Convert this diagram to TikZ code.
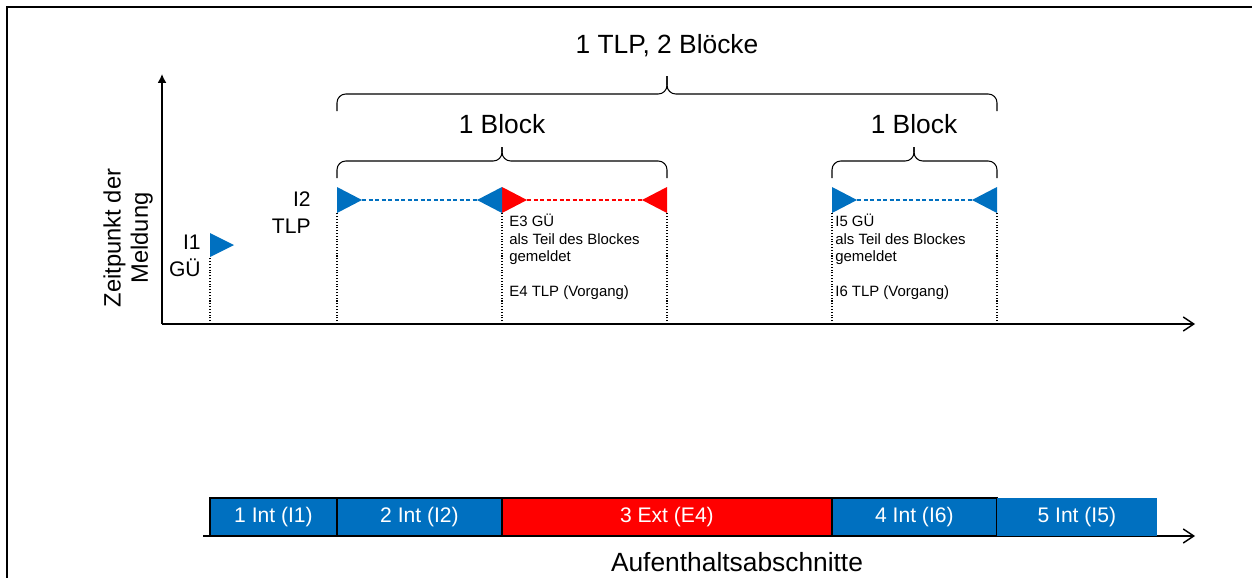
\documentclass[tikz,border=0pt]{standalone}
\usepackage{fontspec}
\setmainfont{Liberation Sans}
\usepackage{tikz}
\usetikzlibrary{positioning,arrows.meta}
\definecolor{int-blue}{HTML}{0070C0}
\definecolor{ext-red}{HTML}{FF0000}

\begin{document}
\begin{tikzpicture}[
  x=0.02cm, y=-0.02cm,
  every node/.style={align=center},
  frame/.style={line width=1.1pt},
  axis/.style={line width=0.8pt, -{Straight Barb[length=6pt,width=8pt]}},
  yaxis/.style={line width=0.8pt, -{Latex[length=5pt,width=5pt]}},
  curly/.style={rounded corners=5pt, line width=0.6pt},
  heading/.style={font=\fontsize{15}{17}\selectfont},
  tag/.style={align=right, inner sep=0pt, font=\fontsize{12}{15.5}\selectfont},
  note/.style={align=left, inner sep=0pt, font=\fontsize{8.5}{9.9}\selectfont},
  marker/.style={densely dotted, line width=0.6pt},
  span/.style={dash pattern=on 2.5pt off 1.2pt, line width=0.6pt},
  seg/.style={rectangle, draw=black, line width=0.8pt, minimum height=0.76cm, inner sep=0pt, outer sep=0pt, text=white, font=\fontsize{12}{14}\selectfont}
]
  \useasboundingbox (0,0) rectangle (1252,578);
  \draw[frame] (7,578) -- (7,7) -- (1252,7);

  % axes
  \coordinate (o) at (162,324);
  \coordinate (ytip) at (162,74);
  \coordinate (xtip) at (1195,324);
  \draw[yaxis] (o) -- (ytip);
  \draw[axis] (o) -- (xtip);
  \node[rotate=90, font=\fontsize{13.5}{15.5}\selectfont] (ylab) at (128,238) {Zeitpunkt der\\Meldung};

  \foreach \n/\x in {1/210, 2/337, 3/502, 4/667, 5/832, 6/997}
    \coordinate (p\n) at (\x,324);

  % flags
  \fill[int-blue] (210,233) -- (234,245) -- (210,257) -- cycle;
  \foreach \x/\c in {337/int-blue, 502/ext-red, 832/int-blue} {
    \fill[\c] (\x,187) -- (\x+25,200) -- (\x,213) -- cycle;
    \coordinate (r\x) at (\x+25,200);
  }
  \foreach \x/\c in {502/int-blue, 667/ext-red, 997/int-blue} {
    \fill[\c] (\x,187) -- (\x-25,200) -- (\x,213) -- cycle;
    \coordinate (l\x) at (\x-25,200);
  }
  \draw[span, int-blue] (r337) -- (l502);
  \draw[span, ext-red] (r502) -- (l667);
  \draw[span, int-blue] (r832) -- (l997);

  \draw[marker] (p1) -- ++(0,-67);
  \foreach \n in {2,...,6}
    \draw[marker] (p\n) -- ++(0,-111);

  % braces: left end / right end / tip x / foot y / bar y / tip y
  \foreach \a/\b/\m/\f/\h/\t in {337/997/667/111/94/76, 337/667/502/178/161/147, 832/997/914/178/161/147} {
    \draw[curly] (\a,\f) |- (\m,\h) -- (\m,\t);
    \draw[curly] (\b,\f) |- (\m,\h) -- (\m,\t);
  }
  \node[heading] (tlp) at (667,46) {1 TLP, 2 Blöcke};
  \node[heading] (blkA) at (502,124) {1 Block};
  \node[heading] (blkB) at (914,124) {1 Block};

  \node[tag, anchor=east] (i1) at (201,256) {I1\\GÜ};
  \node[tag, anchor=east] (i2) at (311,213) {I2\\TLP};
  \node[note, anchor=north west] (e3) at (509,214) {E3 GÜ\\als Teil des Blockes\\gemeldet\\[9.9pt]E4 TLP (Vorgang)};
  \node[note, anchor=north west] (i5) at (835,214) {I5 GÜ\\als Teil des Blockes\\gemeldet\\[9.9pt]I6 TLP (Vorgang)};

  % stays
  \coordinate (lo) at (203,536);
  \coordinate (lotip) at (1195,536);
  \draw[axis] (lo) -- (lotip);
  \node[seg, fill=int-blue, minimum width=2.54cm, anchor=south west] (s1) at (210,536) {1 Int (I1)};
  \node[seg, fill=int-blue, minimum width=3.3cm, right=0pt of s1] (s2) {2 Int (I2)};
  \node[seg, fill=ext-red, minimum width=6.6cm, right=0pt of s2] (s3) {3 Ext (E4)};
  \node[seg, fill=int-blue, minimum width=3.3cm, right=0pt of s3] (s4) {4 Int (I6)};
  \node[seg, fill=int-blue, draw=none, minimum width=3.2cm, right=0pt of s4] (s5) {5 Int (I5)};
  \node[heading] (xlab) at (737,562) {Aufenthaltsabschnitte};
\end{tikzpicture}
\end{document}
